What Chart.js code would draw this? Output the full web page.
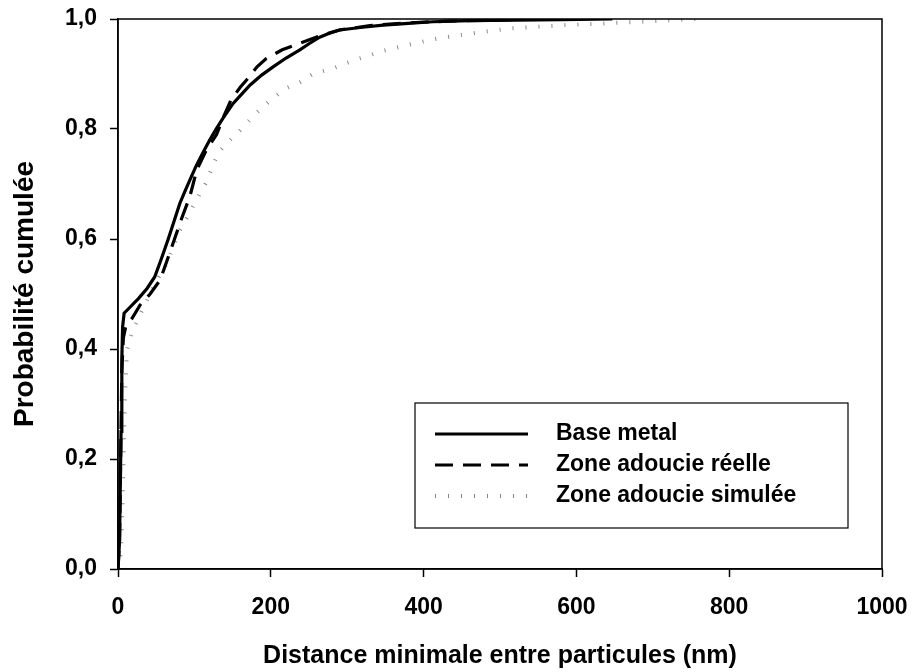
<!DOCTYPE html>
<html>
<head>
<meta charset="utf-8">
<script src="https://cdn.jsdelivr.net/npm/chart.js@4/dist/chart.umd.min.js"></script>
<style>
  body { margin: 0; background: #fff; }
  #wrap { width: 914px; height: 672px; }
</style>
</head>
<body>
<div id="wrap"><canvas id="cdf-chart"></canvas></div>
<script>
// cumulative distributions (x in nm)
const seriesLabels = ['Base metal', 'Zone adoucie réelle', 'Zone adoucie simulée'];

const baseX = [0, 2, 3, 4, 5, 6, 8, 15, 27, 38, 48, 57, 66, 74, 81, 88, 94, 102, 112, 120, 129, 140, 151, 161, 173, 188, 203, 220, 238, 250, 264, 278, 290, 320, 347, 380, 412, 460, 520, 580, 647];
const baseY = [0, 0.05, 0.15, 0.25, 0.38, 0.44, 0.465, 0.475, 0.492, 0.51, 0.531, 0.565, 0.601, 0.635, 0.665, 0.688, 0.707, 0.732, 0.759, 0.78, 0.801, 0.825, 0.847, 0.862, 0.88, 0.898, 0.913, 0.929, 0.944, 0.955, 0.967, 0.975, 0.98, 0.985, 0.989, 0.992, 0.995, 0.997, 0.998, 0.999, 1.0];

const reelleX = [0, 2, 3, 4, 5, 7, 10, 18, 29, 42, 55, 64, 74, 84, 94, 103, 115, 129, 139, 148, 160, 170, 182, 194, 215, 238, 262, 290, 330, 380, 430, 490, 560];
const reelleY = [0, 0.05, 0.15, 0.26, 0.36, 0.42, 0.44, 0.455, 0.48, 0.50, 0.525, 0.56, 0.60, 0.64, 0.677, 0.725, 0.76, 0.79, 0.825, 0.853, 0.876, 0.892, 0.913, 0.928, 0.944, 0.956, 0.968, 0.98, 0.988, 0.993, 0.996, 0.998, 1.0];

const simX = [0, 4, 6, 8, 10, 12, 18, 28, 42, 53, 64, 72, 81, 90, 98, 107, 116, 123, 131, 141, 151, 160, 168, 179, 190, 205, 220, 238, 255, 281, 299, 320, 347, 380, 412, 440, 464, 490, 517, 550, 586, 620, 652, 700, 756];
const simY = [0, 0.03, 0.12, 0.25, 0.35, 0.40, 0.43, 0.46, 0.50, 0.53, 0.556, 0.585, 0.616, 0.638, 0.659, 0.682, 0.704, 0.73, 0.756, 0.772, 0.786, 0.798, 0.81, 0.826, 0.841, 0.858, 0.874, 0.885, 0.9, 0.91, 0.92, 0.93, 0.942, 0.953, 0.963, 0.969, 0.974, 0.979, 0.983, 0.986, 0.989, 0.991, 0.993, 0.996, 1.0];

const xTicks = [0, 200, 400, 600, 800, 1000];
const yTicks = [0, 0.2, 0.4, 0.6, 0.8, 1.0];

const FONT = "'Liberation Sans', Arial, sans-serif";

function toPoints(xs, ys) {
    return xs.map((x, i) => ({ x: x, y: ys[i] }));
}

// box around the plot area
const framePlugin = {
    id: 'frame',
    afterDatasetsDraw(chart) {
        const { ctx, chartArea: a } = chart;
        ctx.save();
        ctx.strokeStyle = '#000';
        ctx.lineWidth = 1.5;
        ctx.strokeRect(a.left, a.top, a.right - a.left, a.bottom - a.top);
        ctx.restore();
    }
};

// boxed legend inside the plot, like the original
const boxLegend = {
    id: 'boxLegend',
    afterDraw(chart) {
        const ctx = chart.ctx;
        const box = { x: 415, y: 403, w: 433, h: 125 };
        ctx.save();
        ctx.fillStyle = '#fff';
        ctx.fillRect(box.x, box.y, box.w, box.h);
        ctx.strokeStyle = '#000';
        ctx.lineWidth = 1.2;
        ctx.strokeRect(box.x, box.y, box.w, box.h);

        const rows = [434, 465, 496];
        chart.data.datasets.forEach((ds, i) => {
            const y = rows[i];
            ctx.save();
            ctx.strokeStyle = ds.borderColor;
            ctx.lineWidth = ds.borderWidth;
            ctx.setLineDash(ds.borderDash || []);
            ctx.beginPath();
            ctx.moveTo(435, y);
            ctx.lineTo(528, y);
            ctx.stroke();
            ctx.restore();

            ctx.fillStyle = '#000';
            ctx.font = 'bold 23px ' + FONT;
            ctx.textBaseline = 'middle';
            ctx.textAlign = 'left';
            ctx.fillText(ds.label, 556, y);
        });
        ctx.restore();
    }
};

new Chart(document.querySelector('#cdf-chart'), {
    type: 'scatter',
    data: {
        datasets: [
            {
                label: seriesLabels[0],
                data: toPoints(baseX, baseY),
                borderColor: '#000',
                borderWidth: 3.2,
                showLine: true,
                pointRadius: 0,
                tension: 0
            },
            {
                label: seriesLabels[1],
                data: toPoints(reelleX, reelleY),
                borderColor: '#000',
                borderWidth: 3.2,
                borderDash: [18, 10],
                showLine: true,
                pointRadius: 0,
                tension: 0
            },
            {
                label: seriesLabels[2],
                data: toPoints(simX, simY),
                borderColor: '#888',
                borderWidth: 4,
                borderDash: [1, 12],
                showLine: true,
                pointRadius: 0,
                tension: 0
            }
        ]
    },
    options: {
        responsive: true,
        maintainAspectRatio: false,
        animation: false,
        layout: { padding: { left: 0, top: 19, right: 32, bottom: 0 } },
        plugins: {
            legend: { display: false },
            tooltip: { enabled: false }
        },
        scales: {
            x: {
                type: 'linear',
                min: 0,
                max: 1000,
                afterFit(scale) {
                    scale.height = 103;
                    scale.paddingLeft = 0;
                    scale.paddingRight = 0;
                },
                afterBuildTicks(scale) { scale.ticks = xTicks.map(v => ({ value: v })); },
                ticks: {
                    color: '#000',
                    padding: 17,
                    maxRotation: 0,
                    font: { family: FONT, size: 23, weight: 'bold' },
                    callback: v => String(v)
                },
                grid: {
                    drawOnChartArea: false,
                    drawTicks: true,
                    tickLength: 8,
                    tickWidth: 1.5,
                    tickColor: '#000'
                },
                border: { display: true, color: '#000', width: 1.5 },
                title: {
                    display: true,
                    text: 'Distance minimale entre particules (nm)',
                    color: '#000',
                    padding: 1,
                    font: { family: FONT, size: 25, weight: 'bold' }
                }
            },
            y: {
                type: 'linear',
                min: 0,
                max: 1,
                afterFit(scale) {
                    scale.width = 118;
                    scale.paddingTop = 0;
                    scale.paddingBottom = 0;
                },
                afterBuildTicks(scale) { scale.ticks = yTicks.map(v => ({ value: v })); },
                ticks: {
                    color: '#000',
                    padding: 13,
                    font: { family: FONT, size: 23, weight: 'bold' },
                    callback: v => v.toFixed(1).replace('.', ',')
                },
                grid: {
                    drawOnChartArea: false,
                    drawTicks: true,
                    tickLength: 8,
                    tickWidth: 1.5,
                    tickColor: '#000'
                },
                border: { display: true, color: '#000', width: 1.5 },
                title: {
                    display: true,
                    text: 'Probabilité cumulée',
                    color: '#000',
                    padding: 8,
                    font: { family: FONT, size: 28, weight: 'bold' }
                }
            }
        }
    },
    plugins: [framePlugin, boxLegend]
});
</script>
</body>
</html>
